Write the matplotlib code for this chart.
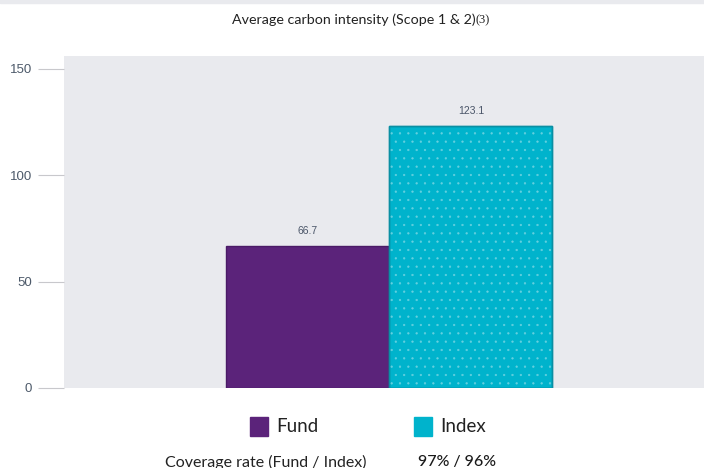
import matplotlib.pyplot as plt
from matplotlib.patches import Rectangle

categories = ["Fund", "Index"]
values = [66.7, 123.1]
value_labels = ["66.7", "123.1"]
bar_colors = ["#5b237a", "#00b3cc"]
edge_colors = ["#4a1a66", "#0a8fa3"]
y_ticks = [0, 50, 100, 150]
title = "Average carbon intensity (Scope 1 & 2)"
title_note = "(3)"
coverage_label = "Coverage rate (Fund / Index)"
coverage_value = "97% / 96%"

plt.rcParams["font.family"] = ["Lato", "DejaVu Sans"]
plt.rcParams["hatch.linewidth"] = 0.4

fig = plt.figure(figsize = (7.04, 4.68), dpi = 100)
ax = fig.add_axes([64/704, 1 - 388/468, 640/704, 332/468])
ax.set_facecolor("#e9eaee")

x = [0, 1]
ax.bar(x, values, width = 1.0, color = bar_colors, edgecolor = edge_colors, linewidth = 1.0, zorder = 2)
# dotted overlay on the index bar
ax.bar([1], [values[1]], width = 1.0, color = "none", edgecolor = "#66d0df",
       hatch = "..", linewidth = 0, zorder = 3)
ax.bar([1], [values[1]], width = 1.0, color = "none", edgecolor = edge_colors[1],
       linewidth = 1.0, zorder = 4)

for xi, v, lab in zip(x, values, value_labels):
    ax.annotate(lab, (xi, v), xytext = (0, 7), textcoords = "offset points",
                ha = "center", va = "bottom", fontsize = 7.5,
                family = "Liberation Sans", color = "#4a5568")

ax.set_xlim(-1.497, 2.43)
ax.set_ylim(0, 156)
ax.set_xticks([])
ax.set_yticks(y_ticks)
ax.set_yticklabels([str(t) for t in y_ticks], family = "Liberation Sans",
                   fontsize = 9.5, color = "#4d5a6a")
ax.tick_params(axis = "y", length = 19, width = 0.8, color = "#c8c8cc", pad = 4)
for s in ax.spines.values():
    s.set_visible(False)

# thin band at top of the image
fig.patches.append(Rectangle((0, 1 - 3/468), 1, 3/468, transform = fig.transFigure,
                             color = "#e9eaee", zorder = 0))

title_text = fig.text(232/704, 1 - 20/468, title, ha = "left", va = "center",
                      fontsize = 10.3, color = "#222222")
ax.annotate(title_note, xy = (1, 0.5), xycoords = title_text, ha = "left", va = "center",
            fontsize = 9, family = "Liberation Serif", color = "#222222",
            annotation_clip = False)

# legend
for px, lab, col in [(250, categories[0], bar_colors[0]), (414, categories[1], bar_colors[1])]:
    fig.patches.append(Rectangle((px/704, 1 - 436/468), 18/704, 19/468,
                                 transform = fig.transFigure, color = col))
    fig.text((px + 26)/704, 1 - 426/468, lab, ha = "left", va = "center",
             fontsize = 13.5, color = "#222222")

fig.text(165/704, 1 - 462/468, coverage_label, ha = "left", va = "center",
         fontsize = 11.5, color = "#222222")
fig.text(418/704, 1 - 462/468, coverage_value, ha = "left", va = "center",
         fontsize = 11.5, color = "#1a1a1a", fontweight = "medium")

fig.savefig("out.png", dpi = 100)
